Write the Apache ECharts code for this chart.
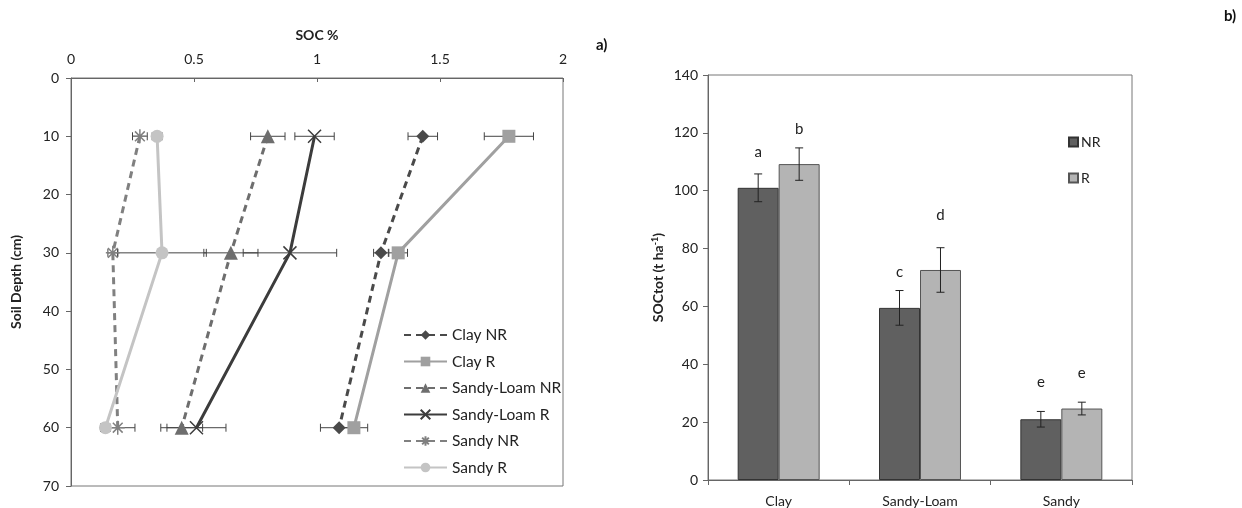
<!DOCTYPE html>
<html><head><meta charset="utf-8">
<script src="https://cdn.jsdelivr.net/npm/echarts@6/dist/echarts.min.js"></script>
<style>html,body{margin:0;padding:0;background:#fff}#c{width:1242px;height:508px}</style>
</head><body><div id="c"></div>
<script>
// ---- Panel a) SOC % by depth ----
const depths = [10, 30, 60];
const depthTicks = [0, 10, 20, 30, 40, 50, 60, 70];
const socTicks = [0, 0.5, 1, 1.5, 2];
const clayNR = [1.43, 1.26, 1.09];
const clayNRerr = [0.06, 0.03, 0.076];
const clayR = [1.78, 1.33, 1.15];
const clayRerr = [0.10, 0.038, 0.056];
const slNR = [0.80, 0.65, 0.45];
const slNRerr = [0.07, 0.11, 0.085];
const slR = [0.99, 0.89, 0.51];
const slRerr = [0.08, 0.19, 0.12];
const sandyNR = [0.28, 0.17, 0.19];
const sandyNRerr = [0.03, 0.02, 0.07];
const sandyR = [0.35, 0.37, 0.14];
const sandyRerr = [0.02, 0.18, 0.02];

// ---- Panel b) SOCtot ----
const soils = ['Clay', 'Sandy-Loam', 'Sandy'];
const socTotTicks = [0, 20, 40, 60, 80, 100, 120, 140];
const totNR = [101, 59.5, 21];
const totNRerr = [4.8, 6, 2.7];
const totR = [109.2, 72.6, 24.7];
const totRerr = [5.6, 7.7, 2.2];
const lettersNR = ['a', 'c', 'e'];
const lettersR = ['b', 'd', 'e'];
const letterPosNR = [113.5, 72.0, 33.8];
const letterPosR = [121.3, 91.7, 36.9];

const FONT = 'Lato';
const chart = echarts.init(document.getElementById('c'));

function lineSeries(name, vals, color, dashed, symbol, size, extra) {
  return Object.assign({
    name: name, type: 'line', xAxisIndex: 0, yAxisIndex: 0,
    data: depths.map((d, i) => [vals[i], d]),
    symbol: symbol, symbolSize: size,
    lineStyle: { color: color, width: 3, type: dashed ? [7, 5] : 'solid' },
    itemStyle: { color: color },
    z: 3
  }, extra || {});
}

const errData = [];
[[clayNR, clayNRerr], [clayR, clayRerr], [slNR, slNRerr], [slR, slRerr], [sandyNR, sandyNRerr], [sandyR, sandyRerr]]
  .forEach(([v, e]) => depths.forEach((d, i) => errData.push([v[i], d, e[i]])));

const barErr = [];
soils.forEach((s, i) => { barErr.push([i, totNR[i], totNRerr[i], -1]); barErr.push([i, totR[i], totRerr[i], 1]); });
const letterData = [];
soils.forEach((s, i) => { letterData.push([i, letterPosNR[i], -1, lettersNR[i]]); letterData.push([i, letterPosR[i], 1, lettersR[i]]); });

const GAP = 0.42;
const axisTxt = { fontFamily: FONT, fontSize: 14, color: '#222' };

chart.setOption({
  animation: false,
  textStyle: { fontFamily: FONT },
  grid: [
    { left: 71, top: 78, width: 492, height: 408, show: true, borderColor: '#777', borderWidth: 1 },
    { left: 708, top: 75, width: 424, height: 406, show: true, borderColor: '#777', borderWidth: 1 }
  ],
  legend: [
    { data: ['Clay NR', 'Clay R', 'Sandy-Loam NR', 'Sandy-Loam R', 'Sandy NR', 'Sandy R'],
      orient: 'vertical', left: 398, top: 322, itemWidth: 43, itemHeight: 12, itemGap: 10.5,
      textStyle: { fontFamily: FONT, fontSize: 15.5, color: '#222' } },
    { data: ['NR', 'R'], orient: 'vertical', left: 1063, top: 130, itemWidth: 9, itemHeight: 9, itemGap: 22,
      icon: 'rect', textStyle: { fontFamily: FONT, fontSize: 14, color: '#222', padding: [0, 0, 0, -2] } }
  ],
  xAxis: [
    { type: 'value', gridIndex: 0, position: 'top', min: socTicks[0], max: socTicks[socTicks.length - 1], interval: 0.5,
      name: 'SOC %', nameLocation: 'middle', nameGap: 36,
      nameTextStyle: { fontFamily: FONT, fontSize: 14, fontWeight: 'bold', color: '#222' },
      axisLine: { show: true, lineStyle: { color: '#666' } },
      axisTick: { show: true, inside: true, length: 4, lineStyle: { color: '#666' } },
      axisLabel: Object.assign({ margin: 12 }, axisTxt), splitLine: { show: false } },
    { type: 'category', gridIndex: 1, data: soils,
      axisLine: { lineStyle: { color: '#666' } },
      axisTick: { show: true, length: 5, lineStyle: { color: '#666' } },
      axisLabel: Object.assign({ margin: 14 }, axisTxt) }
  ],
  yAxis: [
    { type: 'value', gridIndex: 0, inverse: true, min: depthTicks[0], max: depthTicks[depthTicks.length - 1], interval: 10,
      name: 'Soil Depth (cm)', nameLocation: 'middle', nameGap: 48,
      nameTextStyle: { fontFamily: FONT, fontSize: 14, fontWeight: 'bold', color: '#222' },
      axisLine: { show: true, lineStyle: { color: '#666' } },
      axisTick: { show: true, length: 5, lineStyle: { color: '#666' } },
      axisLabel: Object.assign({ margin: 12 }, axisTxt), splitLine: { show: false } },
    { type: 'value', gridIndex: 1, min: socTotTicks[0], max: socTotTicks[socTotTicks.length - 1], interval: 20,
      name: '{b|SOCtot (t ha}{s|-1}{b|)}', nameLocation: 'middle', nameGap: 42,
      nameTextStyle: { rich: { b: { fontFamily: FONT, fontSize: 14, fontWeight: 'bold', color: '#222' },
                               s: { fontFamily: FONT, fontSize: 9, fontWeight: 'bold', color: '#222', verticalAlign: 'top', padding: [0, 0, 6, 0] } } },
      axisLine: { show: true, lineStyle: { color: '#666' } },
      axisTick: { show: true, length: 5, lineStyle: { color: '#666' } },
      axisLabel: Object.assign({ margin: 10 }, axisTxt), splitLine: { show: false } }
  ],
  series: [
    { type: 'custom', xAxisIndex: 0, yAxisIndex: 0, data: errData, z: 2, silent: true,
      renderItem: function (params, api) {
        const y = api.value(1), v = api.value(0), e = api.value(2);
        const p1 = api.coord([v - e, y]), p2 = api.coord([v + e, y]);
        const st = { stroke: '#444', lineWidth: 1 };
        return { type: 'group', children: [
          { type: 'line', shape: { x1: p1[0], y1: p1[1], x2: p2[0], y2: p2[1] }, style: st },
          { type: 'line', shape: { x1: p1[0], y1: p1[1] - 4, x2: p1[0], y2: p1[1] + 4 }, style: st },
          { type: 'line', shape: { x1: p2[0], y1: p2[1] - 4, x2: p2[0], y2: p2[1] + 4 }, style: st }
        ] };
      } },
    lineSeries('Clay NR', clayNR, '#4a4a4a', true, 'diamond', 13),
    lineSeries('Clay R', clayR, '#a0a0a0', false, 'rect', 13),
    lineSeries('Sandy-Loam NR', slNR, '#6e6e6e', true, 'triangle', 14),
    lineSeries('Sandy-Loam R', slR, '#3c3c3c', false, 'path://M0,0L10,10M10,0L0,10', 13,
      { itemStyle: { color: 'none', borderColor: '#3c3c3c', borderWidth: 1.5 } }),
    lineSeries('Sandy NR', sandyNR, '#808080', true, 'path://M5,0L5,10M0,5L10,5M1.5,1.5L8.5,8.5M8.5,1.5L1.5,8.5', 14,
      { itemStyle: { color: 'none', borderColor: '#808080', borderWidth: 1.5 } }),
    lineSeries('Sandy R', sandyR, '#c4c4c4', false, 'circle', 13),
    { name: 'NR', type: 'bar', xAxisIndex: 1, yAxisIndex: 1, data: totNR, barGap: '0%', barCategoryGap: (GAP * 100) + '%',
      itemStyle: { color: '#606060', borderColor: '#333', borderWidth: 1 } },
    { name: 'R', type: 'bar', xAxisIndex: 1, yAxisIndex: 1, data: totR, barGap: '0%', barCategoryGap: (GAP * 100) + '%',
      itemStyle: { color: '#b4b4b4', borderColor: '#555', borderWidth: 1 } },
    { type: 'custom', xAxisIndex: 1, yAxisIndex: 1, data: barErr, z: 5, silent: true,
      renderItem: function (params, api) {
        const band = api.size([1, 0])[0];
        const off = band * (1 - GAP) / 4 * api.value(3);
        const c = api.value(0), v = api.value(1), e = api.value(2);
        const top = api.coord([c, v + e]), bot = api.coord([c, v - e]);
        const x = top[0] + off;
        const st = { stroke: '#222', lineWidth: 1 };
        return { type: 'group', children: [
          { type: 'line', shape: { x1: x, y1: top[1], x2: x, y2: bot[1] }, style: st },
          { type: 'line', shape: { x1: x - 4, y1: top[1], x2: x + 4, y2: top[1] }, style: st },
          { type: 'line', shape: { x1: x - 4, y1: bot[1], x2: x + 4, y2: bot[1] }, style: st }
        ] };
      } },
    { type: 'custom', xAxisIndex: 1, yAxisIndex: 1, data: letterData, z: 5, silent: true,
      renderItem: function (params, api) {
        const band = api.size([1, 0])[0];
        const off = band * (1 - GAP) / 4 * api.value(2);
        const p = api.coord([api.value(0), api.value(1)]);
        return { type: 'text', x: p[0] + off, y: p[1],
          style: { text: letterData[params.dataIndex][3], textAlign: 'center', textVerticalAlign: 'middle',
                   font: '15px ' + FONT, fill: '#222' } };
      } }
  ],
  graphic: [
    { type: 'text', left: 596, top: 38, style: { text: 'a)', font: 'bold 15px ' + FONT, fill: '#111' } },
    { type: 'text', left: 1224, top: 9, style: { text: 'b)', font: 'bold 15px ' + FONT, fill: '#111' } }
  ]
});
</script></body></html>
